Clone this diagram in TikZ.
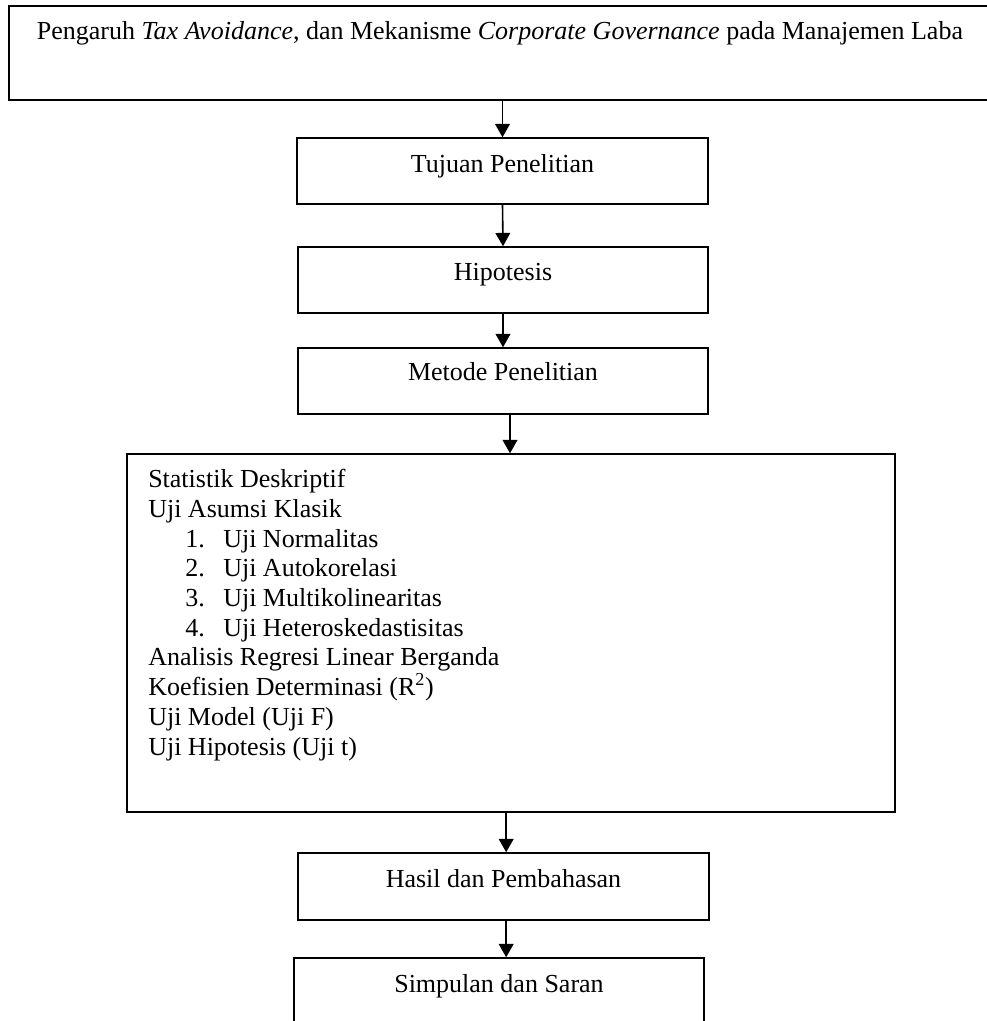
\documentclass[tikz,border=0pt]{standalone}
\usepackage{fontspec}
\setmainfont{Liberation Serif}
\usetikzlibrary{arrows.meta}

\begin{document}
\begin{tikzpicture}[x=0.75pt, y=-0.75pt,
  kotak/.style={draw, line width=1.1pt, rectangle, inner sep=0pt, anchor=base,
    font=\fontsize{19.5}{22.3}\selectfont},
  panah/.style={-{Triangle[width=11pt, length=10pt]}, line width=1.2pt}]
\useasboundingbox (0,0) rectangle (987,1021);
\clip (0,0) rectangle (987,1021);
\node[kotak, minimum width=736.5pt, text height=24.75pt, text depth=45.75pt] (judul) at (500, 39)
  {Pengaruh \textit{Tax Avoidance}, dan Mekanisme \textit{Corporate Governance} pada Manajemen Laba};
\node[kotak, minimum width=308.25pt, text height=25.5pt, text depth=24pt] (tujuan) at (502.5, 172) {Tujuan Penelitian};
\node[kotak, minimum width=307.5pt, text height=24.75pt, text depth=24.75pt] (hipotesis) at (503, 280) {Hipotesis};
\node[kotak, minimum width=307.5pt, text height=24pt, text depth=25.5pt] (metode) at (503, 380) {Metode Penelitian};
\node[draw, line width=1.1pt, rectangle, inner sep=0pt, minimum width=576pt, minimum height=268.5pt] (analisis) at (511, 633) {};
\node[anchor=north west, inner sep=0pt, align=left, font=\fontsize{19.5}{22.3}\selectfont] (isi) at (148, 469)
  {Statistik Deskriptif\\
   Uji Asumsi Klasik\\
   \hspace*{27.75pt}\makebox[28.5pt][l]{1.}Uji Normalitas\\
   \hspace*{27.75pt}\makebox[28.5pt][l]{2.}Uji Autokorelasi\\
   \hspace*{27.75pt}\makebox[28.5pt][l]{3.}Uji Multikolinearitas\\
   \hspace*{27.75pt}\makebox[28.5pt][l]{4.}Uji Heteroskedastisitas\\
   Analisis Regresi Linear Berganda\\
   Koefisien Determinasi (R\textsuperscript{2})\\
   Uji Model (Uji F)\\
   Uji Hipotesis (Uji t)};
\node[kotak, minimum width=308.25pt, text height=25.5pt, text depth=24.75pt] (hasil) at (503.5, 887) {Hasil dan Pembahasan};
\node[kotak, minimum width=307.5pt, text height=25.5pt, text depth=30pt] (simpulan) at (499, 992) {Simpulan dan Saran};
% panah antar kotak
\draw[panah] (tujuan.north |- judul.south) -- (tujuan.north);
\draw[panah] (tujuan.south) -- (hipotesis.north);
\draw[panah] (hipotesis.south) -- (metode.north);
\draw[panah] ([xshift=5.25pt]metode.south) -- ([xshift=5.25pt]metode.south |- analisis.north);
\draw[panah] ([xshift=2pt]hasil.north |- analisis.south) -- ([xshift=2pt]hasil.north);
\draw[panah] ([xshift=2pt]hasil.south) -- ([xshift=2pt]hasil.south |- simpulan.north);
\end{tikzpicture}
\end{document}
